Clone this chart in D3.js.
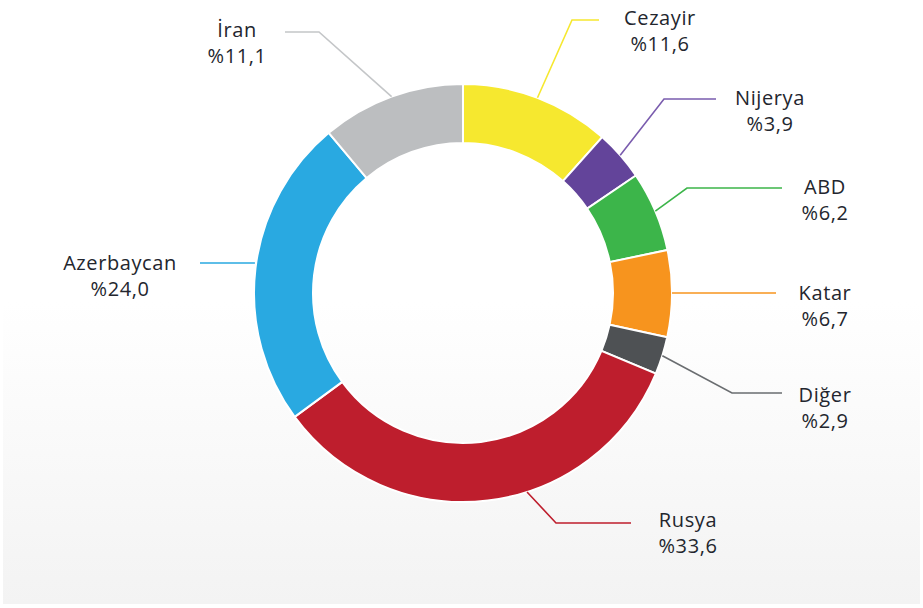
<!DOCTYPE html>
<html>
<head>
<meta charset="utf-8" />
<script src="https://d3js.org/d3.v7.min.js"></script>
<style>
  body { margin: 0; background: #fff; }
  text { font-family: "Open Sans", "Lato", sans-serif; }
</style>
</head>
<body>
<div id="visu"></div>
<script>
// Data (clockwise from 12 o'clock)
const ulkeler = ["Cezayir", "Nijerya", "ABD", "Katar", "Diğer", "Rusya", "Azerbaycan", "İran"];
const paylar = [11.6, 3.9, 6.2, 6.7, 2.9, 33.6, 24.0, 11.1];
const etiketler = ["%11,6", "%3,9", "%6,2", "%6,7", "%2,9", "%33,6", "%24,0", "%11,1"];
const renkler = ["#f6e82f", "#63449a", "#3cb54a", "#f7941e", "#4e5154", "#be1e2d", "#29a9e1", "#bcbec0"];
const cizgiRenk = ["#f6e82f", "#7a5cae", "#3cb54a", "#f7941e", "#6a6d70", "#be1e2d", "#29a9e1", "#c4c6c8"];

// Label layout: elbow + end of leader line, text centre (relative to donut centre)
const yerlesim = [
  { nudge: 0,   elbow: [109, -273], end: [136, -273], text: [197, -268] },
  { nudge: 0,   elbow: [201, -194], end: [253, -194], text: [307, -188] },
  { nudge: 0,   elbow: [224, -105], end: [319, -105], text: [362, -99] },
  { nudge: 0,   elbow: null,        end: [313, 0],    text: [362, 7] },
  { nudge: 0,   elbow: [269, 100],  end: [319, 100],  text: [362, 109] },
  { nudge: -11, elbow: [93, 230],   end: [168, 230],  text: [225, 234] },
  { nudge: -1.5, elbow: null,       end: [-263, -30], text: [-343, -23] },
  { nudge: 0,   elbow: [-144, -261], end: [-178, -261], text: [-226, -256] }
];

const largeur = 923;
const hauteur = 608;
const cx = 463, cy = 293;
const rExt = 209, rInt = 150;

const svg = d3.select('#visu').append('svg')
  .attr('width', largeur)
  .attr('height', hauteur);

// Fond dégradé
const grad = svg.append('defs').append('linearGradient')
  .attr('id', 'fond').attr('x1', 0).attr('y1', 0).attr('x2', 0).attr('y2', 1);
grad.append('stop').attr('offset', '0%').attr('stop-color', '#ffffff');
grad.append('stop').attr('offset', '50%').attr('stop-color', '#ffffff');
grad.append('stop').attr('offset', '100%').attr('stop-color', '#f3f3f3');
svg.append('rect')
  .attr('x', 3).attr('y', 0)
  .attr('width', largeur - 6).attr('height', hauteur - 4)
  .attr('fill', 'url(#fond)');

const g = svg.append('g').attr('transform', `translate(${cx},${cy})`);

const pie = d3.pie().sort(null).value(d => d);
const arcs = pie(paylar);

const arc = d3.arc().innerRadius(rInt).outerRadius(rExt);

g.selectAll('path.dilim')
  .data(arcs)
  .enter()
  .append('path')
  .attr('class', 'dilim')
  .attr('d', arc)
  .attr('fill', (d, i) => renkler[i])
  .attr('stroke', '#ffffff')
  .attr('stroke-width', 2);

// Leader lines + labels
const line = d3.line();
arcs.forEach((d, i) => {
  const L = yerlesim[i];
  const a = (d.startAngle + d.endAngle) / 2 + L.nudge * Math.PI / 180;
  const start = [Math.sin(a) * rExt, -Math.cos(a) * rExt];
  const pts = [start];
  if (L.elbow) pts.push(L.elbow);
  else start[1] = L.end[1];
  pts.push(L.end);
  g.append('path')
    .attr('d', line(pts))
    .attr('fill', 'none')
    .attr('stroke', cizgiRenk[i])
    .attr('stroke-width', 1.6);

  const t = g.append('text')
    .attr('x', L.text[0])
    .attr('y', L.text[1])
    .attr('text-anchor', 'middle')
    .attr('fill', '#23262e')
    .style('font-size', '20px')
    .style('letter-spacing', '0.6px');
  t.append('tspan').attr('x', L.text[0]).text(ulkeler[i]);
  t.append('tspan').attr('x', L.text[0]).attr('dy', 26).text(etiketler[i]);
});
</script>
</body>
</html>
